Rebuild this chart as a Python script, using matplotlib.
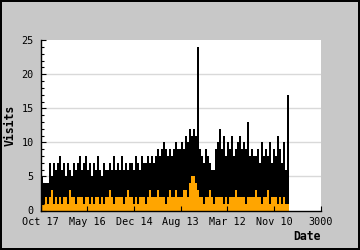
import numpy as np
import matplotlib
matplotlib.use("Agg")
import matplotlib.pyplot as plt

visits = [5, 4, 4, 4, 7, 5, 7, 6, 7, 8,
          6, 7, 5, 7, 6, 5, 7, 6, 7, 8,
          6, 7, 8, 6, 7, 5, 7, 6, 8, 6,
          5, 7, 6, 6, 7, 6, 8, 6, 7, 6,
          8, 6, 7, 6, 7, 7, 6, 8, 7, 6,
          8, 7, 7, 8, 7, 8, 7, 8, 9, 8,
          9, 10, 9, 8, 9, 8, 9, 10, 9, 9,
          10, 9, 11, 10, 12, 11, 12, 11, 24, 9,
          8, 7, 9, 8, 7, 6, 6, 9, 10, 12,
          9, 11, 8, 10, 9, 11, 8, 9, 10, 11,
          9, 10, 9, 13, 8, 9, 8, 8, 9, 7,
          10, 8, 9, 8, 10, 7, 9, 8, 11, 9,
          7, 10, 6, 17]
# second series (orange)
uniques = [1, 1, 2, 1, 2, 3, 1, 2, 1, 2,
           1, 2, 2, 1, 3, 2, 2, 1, 2, 2,
           2, 1, 2, 2, 1, 2, 1, 2, 2, 1,
           2, 1, 2, 2, 3, 2, 1, 2, 2, 2,
           2, 1, 2, 3, 2, 2, 1, 2, 1, 2,
           2, 2, 1, 2, 3, 2, 2, 2, 3, 2,
           2, 2, 1, 2, 3, 2, 2, 3, 2, 2,
           2, 3, 3, 2, 4, 5, 5, 4, 3, 2,
           2, 1, 2, 2, 3, 2, 1, 2, 2, 2,
           2, 1, 2, 1, 2, 2, 2, 3, 2, 2,
           2, 2, 1, 2, 2, 2, 2, 3, 2, 2,
           1, 2, 2, 3, 1, 2, 2, 2, 1, 2,
           1, 2, 1, 1]
days_per_bin = 21.4

xticks = [0, 500, 1000, 1500, 2000, 2500, 3000]
xlabels = ['Oct 17', 'May 16', 'Dec 14', 'Aug 13', 'Mar 12', 'Nov 10', '3000']
yticks = [0, 5, 10, 15, 20, 25]

bg = '#c8c8c8'
plt.rcParams['font.family'] = 'DejaVu Sans Mono'

fig = plt.figure(figsize=(3.6, 2.5), dpi=100, facecolor=bg)
fig.patch.set_edgecolor('black')
fig.patch.set_linewidth(1.5)
ax = fig.add_axes([0.1125, 0.158, 0.779, 0.681])
ax.set_facecolor('white')

x = np.arange(len(visits)) * days_per_bin
ax.bar(x, visits, width=days_per_bin, align='edge', color='black', linewidth=0,
       antialiased=False, zorder=1)
ax.bar(x, uniques, width=days_per_bin, align='edge', color='#ffa500', linewidth=0,
       antialiased=False, zorder=1.1)

# --- grid behind the bars ---
for y in yticks[1:-1]:
    ax.axhline(y, color='#d9d9d9', linewidth=1, zorder=0.5)

ax.set_xlim(0, 3000)
ax.set_ylim(0, 25)
ax.set_xticks(xticks)
ax.set_xticklabels(xlabels)
ax.set_yticks(yticks)
ax.set_yticks(np.arange(0, 26, 1), minor=True)

for s in ['top', 'right']:
    ax.spines[s].set_visible(False)
for s in ['left', 'bottom']:
    ax.spines[s].set_linewidth(1)
    ax.spines[s].set_zorder(3)

ax.tick_params(axis='both', which='major', direction='in', length=3.6, width=0.8,
               labelsize=7.3, pad=5, colors='black')
ax.tick_params(axis='y', which='minor', direction='in', length=2.2, width=0.8)
ax.tick_params(axis='x', which='minor', length=0)

ax.set_ylabel('Visits', fontsize=8.3, fontweight='bold')
ax.yaxis.set_label_coords(-0.085, 0.5)
ax.set_xlabel('Date', fontsize=8.3, fontweight='bold', loc='right')
ax.xaxis.set_label_coords(1.0, -0.115)

fig.savefig('out.png', dpi=100, facecolor=bg, edgecolor='black')
